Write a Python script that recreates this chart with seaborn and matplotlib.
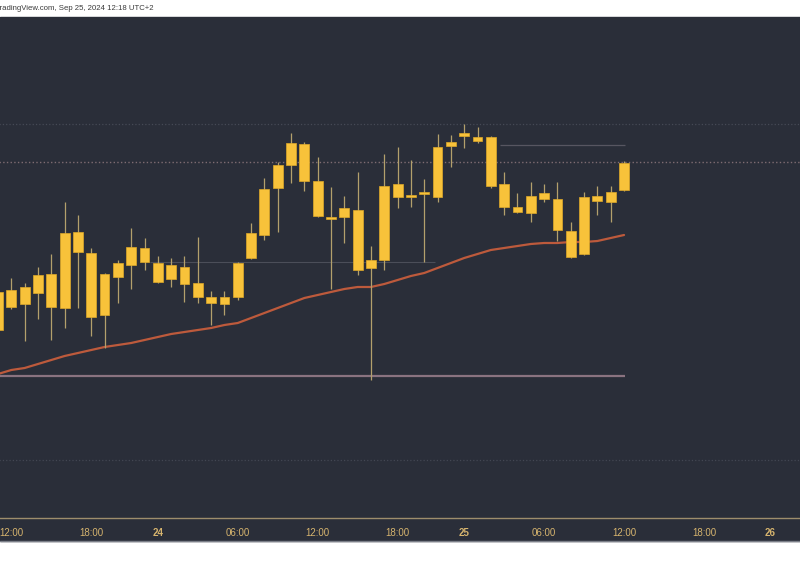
import numpy as np
import pandas as pd
import matplotlib.pyplot as plt
import seaborn as sns
from matplotlib.patches import Rectangle
from matplotlib.lines import Line2D

# hourly session bars (UTC+2); the 23:00 hour is the daily break and has no bar
session = pd.date_range("2024-09-23 11:00", "2024-09-26 00:00", freq="h")
session = session[session.hour != 23]
n_candles = 48  # Sep 23 11:00 .. Sep 25 12:00

opens = [2624.0, 2632.0, 2629.2, 2631.4, 2635.2, 2628.4, 2643.6, 2639.4, 2627.0, 2634.6,
         2637.0, 2640.4, 2637.4, 2634.2, 2636.6, 2633.4, 2630.6, 2629.2, 2630.6, 2638.4,
         2643.0, 2652.4, 2657.0, 2661.2, 2653.8, 2646.6, 2646.6, 2648.0, 2636.4, 2638.0,
         2653.2, 2650.6, 2651.2, 2650.6, 2660.8, 2662.8, 2662.6, 2662.6, 2653.2, 2648.6,
         2647.4, 2651.4, 2650.2, 2643.8, 2639.2, 2649.8, 2649.6, 2652.0]
highs = [2633.0, 2634.4, 2633.4, 2636.6, 2639.2, 2649.6, 2647.0, 2640.4, 2635.4, 2638.0,
         2644.4, 2642.4, 2638.8, 2638.4, 2638.8, 2642.6, 2631.8, 2631.8, 2637.6, 2645.4,
         2654.4, 2657.6, 2663.4, 2661.6, 2658.6, 2652.6, 2650.8, 2655.6, 2640.8, 2659.2,
         2660.6, 2658.0, 2654.2, 2663.2, 2663.0, 2665.2, 2664.6, 2662.8, 2655.6, 2651.4,
         2653.6, 2653.2, 2653.6, 2645.6, 2651.6, 2652.8, 2652.8, 2657.8]
lows = [2623.0, 2628.2, 2621.8, 2626.2, 2622.0, 2624.4, 2628.4, 2622.8, 2620.4, 2629.4,
        2632.2, 2636.0, 2633.4, 2632.6, 2629.6, 2629.4, 2625.0, 2627.0, 2630.0, 2638.2,
        2642.0, 2643.6, 2653.4, 2651.8, 2646.6, 2632.2, 2641.4, 2635.0, 2614.0, 2636.0,
        2648.4, 2648.6, 2637.6, 2649.6, 2656.6, 2660.4, 2661.4, 2652.4, 2647.0, 2647.4,
        2645.6, 2649.6, 2641.8, 2638.4, 2639.0, 2647.0, 2645.6, 2651.8]
closes = [2631.6, 2628.6, 2632.6, 2635.0, 2628.6, 2643.4, 2639.6, 2626.6, 2635.2, 2637.4,
          2640.6, 2637.6, 2633.6, 2637.0, 2633.2, 2630.6, 2629.4, 2630.6, 2637.4, 2643.4,
          2652.2, 2657.0, 2661.4, 2653.8, 2646.8, 2646.2, 2648.4, 2636.0, 2638.0, 2652.8,
          2650.6, 2651.0, 2651.6, 2660.6, 2661.6, 2663.4, 2661.8, 2652.8, 2648.6, 2647.6,
          2650.8, 2650.2, 2644.0, 2638.6, 2650.6, 2650.8, 2651.6, 2657.4]
ema = [2615.2, 2616.0, 2616.4, 2617.2, 2618.0, 2618.8, 2619.4, 2620.0, 2620.6, 2621.0,
       2621.4, 2622.0, 2622.6, 2623.2, 2623.6, 2624.0, 2624.4, 2625.0, 2625.4, 2626.4,
       2627.4, 2628.4, 2629.4, 2630.4, 2631.0, 2631.6, 2632.2, 2632.6, 2632.6, 2633.2,
       2634.0, 2634.8, 2635.4, 2636.4, 2637.4, 2638.4, 2639.2, 2640.0, 2640.4, 2640.8,
       2641.2, 2641.4, 2641.4, 2641.6, 2641.6, 2641.8, 2642.4, 2643.0]

# horizontal levels: price, first bar, last bar
level_prices = [2665.2, 2657.6, 2661.0, 2637.6, 2614.8, 2598.0]
level_start = [-1.0, -1.0, 37.7, 11.4, -1.0, -1.0]
level_end = [61.0, 61.0, 47.05, 32.8, 47.05, 61.0]
level_colors = ["#464a56", "#7f6c72", "#575661", "#4b4e59", "#8a7380", "#434753"]
level_styles = [":", ":", "-", "-", "-", ":"]
level_widths = [0.9, 1.0, 0.9, 0.8, 1.6, 0.9]

BG = "#2a2e39"
BODY = "#f8c23a"
WICK = "#b3a06c"
EMA_COLOR = "#bd5a3c"
LABEL = "#d6b46e"

sns.set_theme(style="dark", rc={"axes.facecolor": BG, "figure.facecolor": "white"})
plt.rcParams["font.family"] = ["Liberation Sans", "DejaVu Sans"]

df = pd.DataFrame({"time": session[:n_candles], "open": opens, "high": highs,
                   "low": lows, "close": closes, "ema": ema})
df["bar"] = np.arange(len(df))

fig = plt.figure(figsize=(8, 5.66), dpi=100)
fig.patches.append(Rectangle((0, 25 / 566), 1, 524 / 566, transform=fig.transFigure,
                             color=BG, zorder=0))
ax = fig.add_axes([0, 48 / 566, 1, 501 / 566])
ax.set_zorder(2)
ax.set_facecolor(BG)

for price, x0, x1, col, ls, lw in zip(level_prices, level_start, level_end,
                                      level_colors, level_styles, level_widths):
    ax.hlines(price, x0, x1, colors=col, linestyles=ls, linewidth=lw, zorder=1)

sns.lineplot(data=df, x="bar", y="ema", color=EMA_COLOR, linewidth=1.6, ax=ax, zorder=2)

ax.vlines(df["bar"], df["low"], df["high"], colors=WICK, linewidth=0.9, zorder=3)
body_low = df[["open", "close"]].min(axis=1)
body_h = (df["close"] - df["open"]).abs().clip(lower=0.35)
ax.bar(df["bar"], body_h, bottom=body_low, width=0.74, color=BODY,
       edgecolor="#e0a928", linewidth=0.5, zorder=4)

# time axis labels every 6 hours, on bar positions
tick_pos = [i for i, t in enumerate(session) if t.hour % 6 == 0]
tick_txt = [str(session[i].day) if session[i].hour == 0 else session[i].strftime("%H:00")
            for i in tick_pos]
ax.set_xticks(tick_pos)
ax.set_xticklabels(tick_txt)
ax.set_xlim(0.15, 60.21)
ax.set_ylim(2586.4, 2686.6)
for lab in ax.get_xticklabels():
    lab.set_color(LABEL)
    lab.set_fontsize(7)
    if len(lab.get_text()) == 2:
        lab.set_fontweight("bold")
ax.tick_params(axis="x", length=0, pad=7)
ax.set_yticks([])
ax.set_xlabel("")
ax.set_ylabel("")
ax.grid(False)
for side in ["top", "left", "right"]:
    ax.spines[side].set_visible(False)
ax.spines["bottom"].set_color("#9d8d6c")
ax.spines["bottom"].set_linewidth(1.0)

fig.add_artist(Line2D([0, 1], [25 / 566, 25 / 566], transform=fig.transFigure,
                      color="#7b7f88", linewidth=1.0))
fig.text(-5 / 800, 1 - 9 / 566, "TradingView.com, Sep 25, 2024 12:18 UTC+2",
         fontsize=5.6, color="#3a3a3a", va="center", ha="left")

fig.savefig("out.png", dpi=100, facecolor="white")
